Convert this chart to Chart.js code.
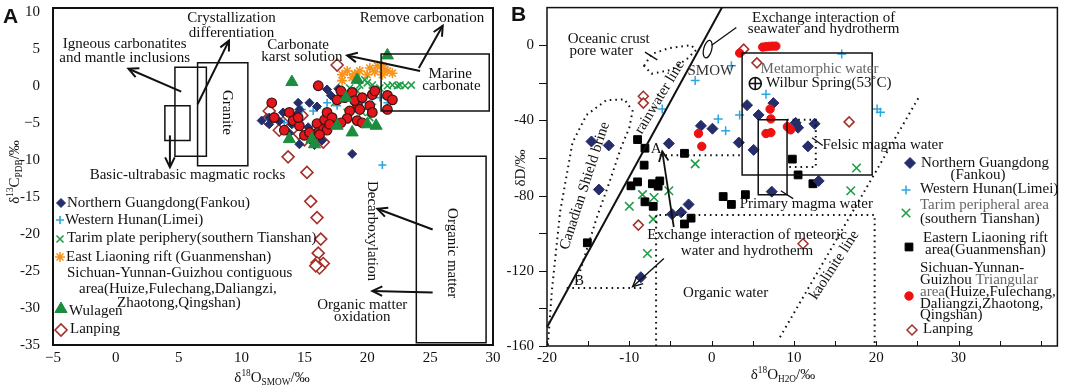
<!DOCTYPE html>
<html>
<head>
<meta charset="utf-8">
<script src="https://cdn.jsdelivr.net/npm/chart.js@4.4.0/dist/chart.umd.min.js"></script>
<style>
html, body { margin: 0; padding: 0; background: #fff; }
#wrap { position: relative; width: 1065px; height: 386px; }
#wrap canvas { position: absolute; left: 0; top: 0; }
</style>
</head>
<body>
<div id="wrap">
  <canvas id="chartA" width="1065" height="386"></canvas>
  <canvas id="chartB" width="1065" height="386"></canvas>
</div>
<script>
// ---- Panel A data: d18O SMOW (x) vs d13C PDB (y) ----
const fankouA = [[16.8,-0.5],[17.7,-0.4],[17.1,-1.3],[15.4,-2.3],[14.5,-2.3],[14.6,-3.2],[12.2,-4.3],[14.0,-5.2],[16.2,-6.0],[15.7,-6.7],[16.4,-7.4],[14.6,-7.9],[18.8,-9.2],[14.4,-3.9],[12.2,-5.2],[15.8,-8.0],[15.3,-5.6],[13.3,-3.6],[13.8,-6.4],[11.6,-4.7],[16.0,-2.8],[13.0,-4.8]];
const limeiA = [[16.8,-2.3],[16.0,-3.0],[15.7,-3.4],[14.8,-3.2],[17.6,-2.7],[19.2,-3.2],[19.6,-2.3],[20.4,-2.5],[21.2,-10.7],[14.2,-4.7],[21.6,-2.3],[21.0,-1.6],[13.4,-5.0]];
const tarimA = [[19.4,0.1],[20.0,0.4],[20.4,0.1],[21.0,-0.3],[21.6,0.0],[22.0,0.1],[22.4,0.0],[22.6,0.1],[23.5,0.1],[18.6,-0.3],[18.8,-1.2],[19.2,-0.7],[19.6,-3.6],[20.2,-4.3],[17.4,-2.3],[18.4,-3.6],[17.2,-5.4],[19.8,0.8],[19.2,-2.0],[23.0,0.0]];
const liaoningA = [[18.0,1.5],[18.4,2.0],[19.4,2.0],[20.2,2.4],[20.8,2.7],[21.4,2.1],[21.6,2.0],[22.0,1.7],[20.0,1.5],[18.8,1.1],[18.0,0.7],[21.2,1.5],[21.2,2.7],[19.0,1.6],[20.6,1.9]];
const sichuanA = [[16.1,0.0],[18.2,-1.6],[18.8,-0.9],[19.2,-2.5],[12.6,-4.3],[13.8,-3.6],[14.1,-4.7],[16.0,-5.1],[16.6,-4.6],[16.1,-6.3],[16.5,-5.9],[16.8,-6.0],[15.6,-7.2],[15.0,-6.7],[17.6,-1.9],[19.0,-2.0],[19.6,-1.6],[20.4,-1.2],[20.6,-0.7],[21.6,-1.3],[22.0,-1.9],[21.6,-3.2],[20.2,-2.7],[19.4,-3.2],[18.6,-3.4],[20.4,-3.6],[19.2,-4.7],[16.8,-3.6],[17.2,-4.3],[12.4,-2.3],[14.6,-5.4],[17.0,-5.2],[16.2,-6.6],[14.5,-4.3],[13.4,-6.0],[17.9,-0.7],[18.4,-4.4],[19.6,-5.0],[15.4,-6.3],[17.9,-5.0]];
const wulagenA = [[21.6,4.1],[14.0,0.5],[19.2,0.8],[18.3,-1.6],[17.6,-5.4],[20.0,-5.2],[20.7,-5.4],[18.8,-6.3],[13.8,-7.2],[15.6,-7.2],[15.8,-7.9]];
const lanpingA = [[17.6,2.8],[12.2,-3.4],[12.0,-4.6],[13.0,-6.0],[13.3,-5.0],[14.8,-4.0],[14.6,-6.5],[15.0,-7.3],[16.5,-7.6],[13.7,-9.6],[15.2,-11.7],[15.5,-15.6],[16.0,-17.8],[16.3,-20.7],[16.1,-22.6],[16.0,-23.9],[16.3,-24.3],[16.5,-24.0],[16.2,-24.6],[15.9,-24.3]];

// ---- Panel B data: d18O H2O (x) vs dD (y) ----
const fankouB = [[-14.6,-51.2],[-12.5,-53.3],[-13.7,-76.8],[-5.2,-52.3],[-1.3,-42.9],[0.1,-44.4],[-2.8,-84.7],[-3.7,-88.9],[-4.8,-89.9],[-8.6,-123.4],[4.3,-31.9],[5.7,-37.1],[7.5,-30.8],[3.3,-51.8],[5.1,-55.7],[7.3,-77.9],[10.2,-41.3],[12.5,-41.8],[10.5,-43.9],[11.7,-53.8],[13.0,-72.2]];
const limeiB = [[2.4,-10.9],[-2.0,-18.8],[-6.0,-34.0],[0.8,-39.2],[1.7,-45.5],[3.4,-37.1],[6.6,-26.1],[15.8,-4.7],[20.1,-34.0],[20.5,-35.6]];
const tarimB = [[-2.0,-63.1],[-5.2,-77.4],[-8.4,-79.5],[-7.0,-81.0],[-10.0,-85.7],[-7.1,-92.5],[-7.8,-110.8],[17.6,-65.3],[16.9,-77.4]];
const liaoningB = [[-9.0,-50.2],[-8.1,-54.8],[-3.3,-57.5],[-8.2,-63.8],[-9.0,-72.7],[-9.8,-74.8],[-7.2,-73.7],[-6.3,-72.2],[-6.5,-75.0],[-8.1,-83.3],[-7.1,-85.7],[-2.5,-92.0],[-3.3,-95.1],[-15.1,-105.1],[1.4,-80.5],[4.1,-79.5],[2.4,-84.7],[9.8,-60.6],[10.5,-69.0],[12.3,-73.7]];
const sichuanB = [[-1.6,-47.0],[-1.2,-53.8],[3.4,-4.2],[6.2,-1.0],[6.6,-0.8],[7.0,-0.6],[7.4,-0.5],[7.8,-0.5],[7.1,-34.0],[7.2,-39.2],[6.6,-47.0],[7.2,-46.5],[9.2,-43.4],[9.6,-45.0]];
const lanpingB = [[3.9,-2.1],[5.5,-9.4],[-8.3,-27.2],[-8.3,-30.8],[-8.9,-95.7],[16.7,-40.8],[11.1,-105.6]];

// axis ranges and tick values
const xRangeA = [-5, 30], yRangeA = [-35, 10.5];
const xTicksA = [-5, 0, 5, 10, 15, 20, 25, 30];
const yTicksA = [-35, -30, -25, -20, -15, -10, -5, 0, 5, 10];
const xRangeB = [-20, 42], yRangeB = [-160, 20];
const xTicksB = [-20, -15, -10, -5, 0, 5, 10, 15, 20, 25, 30, 35, 40];
const xLabelsB = [-20, -10, 0, 10, 20, 30];
const yTicksB = [-160, -140, -120, -100, -80, -60, -40, -20, 0];
const yLabelsB = [-160, -120, -80, -40, 0];

const FONT = '"Liberation Serif", "Times New Roman", serif';

// marker styles shared by datasets and hand-drawn legends
const sty = {
  fankou:   { pointStyle: 'rectRot', radius: 4.5, backgroundColor: '#252e6b', borderColor: '#252e6b', borderWidth: 1 },
  limei:    { pointStyle: 'cross', radius: 4, backgroundColor: '#2ba6e1', borderColor: '#2ba6e1', borderWidth: 1.6 },
  tarim:    { pointStyle: 'crossRot', radius: 5, backgroundColor: '#1f9d48', borderColor: '#1f9d48', borderWidth: 1.6 },
  liaoning: { pointStyle: 'star', radius: 5, backgroundColor: '#f7941d', borderColor: '#f7941d', borderWidth: 1.6 },
  sichuanA: { pointStyle: 'circle', radius: 4.8, backgroundColor: '#e4161c', borderColor: '#3a1414', borderWidth: 1.2 },
  wulagen:  { pointStyle: 'triangle', radius: 7, backgroundColor: '#1e8c3e', borderColor: '#1e8c3e', borderWidth: 1 },
  lanping:  { pointStyle: 'rectRot', radius: 6, backgroundColor: '#ffffff', borderColor: '#a4302a', borderWidth: 1.6 },
  fankouB:  { pointStyle: 'rectRot', radius: 5.5, backgroundColor: '#252e6b', borderColor: '#252e6b', borderWidth: 1 },
  limeiB:   { pointStyle: 'cross', radius: 4.5, backgroundColor: '#2ba6e1', borderColor: '#2ba6e1', borderWidth: 1.5 },
  tarimB:   { pointStyle: 'crossRot', radius: 6, backgroundColor: '#1f9d48', borderColor: '#1f9d48', borderWidth: 1.6 },
  squareB:  { pointStyle: 'rect', radius: 5.5, backgroundColor: '#000000', borderColor: '#000000', borderWidth: 1 },
  sichuanB: { pointStyle: 'circle', radius: 4.2, backgroundColor: '#ee1111', borderColor: '#ee1111', borderWidth: 1 },
  lanpingB: { pointStyle: 'rectRot', radius: 5, backgroundColor: '#ffffff', borderColor: '#a4302a', borderWidth: 1.5 }
};

function ds(label, pts, s, order) {
  return Object.assign({ label, order, data: pts.map(p => ({ x: p[0], y: p[1] })) }, s,
    { pointRadius: s.radius, pointHoverRadius: s.radius });
}

function mark(ctx, s, x, y) {
  ctx.save();
  ctx.fillStyle = s.backgroundColor;
  ctx.strokeStyle = s.borderColor;
  ctx.lineWidth = s.borderWidth;
  Chart.helpers.drawPoint(ctx, { pointStyle: s.pointStyle, radius: s.radius, rotation: 0, borderWidth: s.borderWidth }, x, y);
  ctx.restore();
}

// text with super/subscripts: parts = [[text, 0|1|-1], ...]
function richText(ctx, parts, x, y, size, rot) {
  ctx.save();
  ctx.translate(x, y);
  ctx.rotate(rot || 0);
  ctx.fillStyle = '#111';
  ctx.textBaseline = 'middle';
  ctx.textAlign = 'left';
  let w = 0;
  parts.forEach(p => { ctx.font = (p[1] ? size * 0.62 : size) + 'px ' + FONT; w += ctx.measureText(p[0]).width; });
  let cx = -w / 2;
  parts.forEach(p => {
    ctx.font = (p[1] ? size * 0.62 : size) + 'px ' + FONT;
    const dy = p[1] === 1 ? -size * 0.3 : p[1] === -1 ? size * 0.3 : 0;
    ctx.fillText(p[0], cx, dy);
    cx += ctx.measureText(p[0]).width;
  });
  ctx.restore();
}

// plugin that gives a small drawing kit in data coordinates
function annotator(drawFn) {
  return {
    id: 'annot',
    afterDatasetsDraw(chart) {
      const ctx = chart.ctx, sx = chart.scales.x, sy = chart.scales.y;
      const P = (x, y) => [sx.getPixelForValue(x), sy.getPixelForValue(y)];
      const g = {
        ctx, P, chart,
        line(pts, o = {}) {
          ctx.save();
          ctx.beginPath();
          pts.forEach((p, i) => { const q = P(p[0], p[1]); i ? ctx.lineTo(q[0], q[1]) : ctx.moveTo(q[0], q[1]); });
          if (o.close) ctx.closePath();
          ctx.lineWidth = o.width || 1.5;
          ctx.strokeStyle = o.color || '#111';
          if (o.dot) { ctx.setLineDash([1.6, 4]); ctx.lineWidth = o.width || 2; }
          ctx.stroke();
          ctx.restore();
        },
        arrow(a, b, w) {
          const p0 = P(a[0], a[1]), p1 = P(b[0], b[1]);
          ctx.save();
          ctx.strokeStyle = '#111';
          ctx.lineWidth = w || 2;
          ctx.beginPath(); ctx.moveTo(p0[0], p0[1]); ctx.lineTo(p1[0], p1[1]); ctx.stroke();
          const ang = Math.atan2(p1[1] - p0[1], p1[0] - p0[0]);
          ctx.beginPath();
          ctx.moveTo(p1[0] - 11 * Math.cos(ang - 0.45), p1[1] - 11 * Math.sin(ang - 0.45));
          ctx.lineTo(p1[0], p1[1]);
          ctx.lineTo(p1[0] - 11 * Math.cos(ang + 0.45), p1[1] - 11 * Math.sin(ang + 0.45));
          ctx.stroke();
          ctx.restore();
        },
        box(x0, y0, x1, y1, w) { this.line([[x0, y0], [x1, y0], [x1, y1], [x0, y1]], { close: true, width: w || 1.5 }); },
        text(str, x, y, o = {}) {
          const p = P(x, y);
          ctx.save();
          ctx.translate(p[0], p[1]);
          ctx.rotate((o.rot || 0) * Math.PI / 180);
          ctx.font = (o.size || 15) + 'px ' + FONT;
          ctx.fillStyle = o.color || '#111';
          ctx.textAlign = o.align || 'center';
          ctx.textBaseline = 'middle';
          ctx.fillText(str, 0, 0);
          ctx.restore();
        },
        label(str, x, y, o = {}) {
          ctx.save();
          ctx.font = (o.weight || '') + ' ' + (o.size || 15) + 'px ' + (o.family || FONT);
          ctx.fillStyle = o.color || '#111';
          ctx.textAlign = o.align || 'left';
          ctx.textBaseline = 'middle';
          ctx.fillText(str, x, y);
          ctx.restore();
        }
      };
      ctx.save();
      drawFn(g);
      ctx.restore();
    }
  };
}

// frame + custom tick marks
function frame(chart, lw, ticks) {
  const ctx = chart.ctx, a = chart.chartArea;
  ctx.save();
  ctx.strokeStyle = '#111';
  ctx.lineWidth = 1;
  if (ticks) {
    const sx = chart.scales.x, sy = chart.scales.y;
    ctx.beginPath();
    sy.ticks.forEach(t => { const yy = Math.round(sy.getPixelForValue(t.value)) + 0.5; ctx.moveTo(a.left - ticks.y, yy); ctx.lineTo(a.left, yy); });
    sx.ticks.forEach(t => { const xx = Math.round(sx.getPixelForValue(t.value)) + 0.5; ctx.moveTo(xx, a.bottom); ctx.lineTo(xx, a.bottom - ticks.x); });
    ctx.stroke();
  }
  ctx.lineWidth = lw;
  ctx.strokeRect(a.left, a.top, a.right - a.left, a.bottom - a.top);
  ctx.restore();
}

function axis(range, tickVals, labelFn, fitSize, pad) {
  return {
    type: 'linear', min: range[0], max: range[1],
    grid: { display: false, drawTicks: false },
    border: { display: false },
    ticks: { autoSkip: false, maxRotation: 0, padding: pad, color: '#111',
             font: { family: FONT, size: 15 }, callback: labelFn },
    afterBuildTicks(s) { s.ticks = tickVals.map(v => ({ value: v })); },
    afterFit(s) {
      if (s.isHorizontal()) s.height = fitSize; else s.width = fitSize;
      s.paddingTop = s.paddingBottom = s.paddingLeft = s.paddingRight = 0;
    }
  };
}

const minusFive = v => (v === -5 ? '\u22125' : String(v));

// ---------- Panel A ----------
const drawA = g => {
  frame(g.chart, 2, null);
  // field boxes
  g.box(6.5, 3.1, 10.5, -10.8);
  g.box(4.7, 2.5, 7.2, -9.5);
  g.box(3.9, -2.7, 5.9, -7.4);
  g.box(21.1, 4.3, 29.7, -3.4);
  g.box(23.9, -9.5, 29.45, -34.7);
  // arrows
  g.arrow([5.2, -0.8], [1.0, 2.3]);
  g.arrow([6.5, -2.5], [9.0, 6.1]);
  g.arrow([4.3, -6.7], [4.3, -11.0]);
  g.arrow([24.2, 2.0], [18.4, 4.1]);
  g.arrow([24.1, 2.4], [26.0, 8.1]);
  g.arrow([25.2, -19.4], [20.8, -16.6]);
  g.arrow([25.2, -27.9], [20.4, -27.7]);
  // labels
  g.text('Igneous carbonatites', 0.7, 5.6);
  g.text('and mantle inclusions', 0.7, 3.8);
  g.text('Crystallization', 9.2, 9.1);
  g.text('differentiation', 9.2, 7.1);
  g.text('Carbonate', 14.5, 5.5);
  g.text('karst solution', 14.8, 3.9);
  g.text('Remove carbonation', 24.35, 9.2);
  g.text('Marine', 26.6, 1.6);
  g.text('carbonate', 26.7, 0.0);
  g.text('Basic-ultrabasic magmatic rocks', 5.7, -12.0);
  g.text('Organic matter', 19.6, -29.65);
  g.text('oxidation', 19.6, -31.25);
  g.text('Granite', 8.8, -3.6, { rot: 90 });
  g.text('Decarboxylation', 20.4, -19.6, { rot: 90 });
  g.text('Organic matter', 26.7, -22.6, { rot: 90 });
  // legend (panel A)
  const ctx = g.ctx;
  mark(ctx, sty.fankou, 61, 203);   g.label('Northern Guangdong(Fankou)', 67, 203);
  mark(ctx, sty.limei, 60, 220);    g.label('Western Hunan(Limei)', 65, 220);
  mark(ctx, sty.tarim, 60, 239);    g.label('Tarim plate periphery(southern Tianshan)', 67, 238);
  mark(ctx, sty.liaoning, 60, 257); g.label('East Liaoning rift (Guanmenshan)', 66, 257);
  g.label('Sichuan-Yunnan-Guizhou contiguous', 67, 273);
  g.label('area(Huize,Fulechang,Daliangzi,', 79, 289);
  g.label('Zhaotong,Qingshan)', 117, 303);
  mark(ctx, sty.wulagen, 61, 309);  g.label('Wulagen', 69, 311);
  mark(ctx, sty.lanping, 61, 330);  g.label('Lanping', 70, 329);
  // axis titles, panel letter
  richText(ctx, [['δ', 0], ['13', 1], ['C', 0], ['PDB', -1], ['/‰', 0]], 15, 172, 15, -Math.PI / 2);
  richText(ctx, [['δ', 0], ['18', 1], ['O', 0], ['SMOW', -1], ['/‰', 0]], 272, 378, 15, 0);
  g.label('A', 3, 17, { weight: 'bold', size: 21, family: '"Liberation Sans", Arial, sans-serif' });
};

new Chart(document.getElementById('chartA'), {
  type: 'scatter',
  data: {
    datasets: [
      ds('Wulagen', wulagenA, sty.wulagen, 0),
      ds('Sichuan-Yunnan-Guizhou', sichuanA, sty.sichuanA, 1),
      ds('Northern Guangdong(Fankou)', fankouA, sty.fankou, 2),
      ds('Western Hunan(Limei)', limeiA, sty.limei, 3),
      ds('Tarim plate periphery', tarimA, sty.tarim, 4),
      ds('East Liaoning rift', liaoningA, sty.liaoning, 5),
      ds('Lanping', lanpingA, sty.lanping, 6)
    ]
  },
  options: {
    responsive: false, animation: false, events: [],
    layout: { padding: { left: 8, right: 572, top: 4, bottom: 11 } },
    plugins: { legend: { display: false }, tooltip: { enabled: false } },
    scales: {
      x: axis(xRangeA, xTicksA, minusFive, 30, 4),
      y: axis(yRangeA, yTicksA, minusFive, 45, 13)
    }
  },
  plugins: [annotator(drawA)]
});

// ---------- Panel B ----------
const drawB = g => {
  frame(g.chart, 1.5, { x: 5, y: 8 });
  // meteoric (rainwater) line
  g.line([[-20, -150], [1.25, 20]], { width: 2 });
  // Canadian Shield brine field
  g.line([[-19.9, -159.5], [-19.4, -130.2], [-18.4, -88.4], [-16.9, -51.8], [-15.2, -37.1], [-12.8, -29.3], [-10.6, -28.8], [-9.6, -35.0], [-10.0, -43.9], [-11.0, -54.4], [-12.4, -72.7], [-13.9, -91.0], [-15.4, -111.9], [-16.5, -127.6]], { dot: true });
  // oceanic crust pore water field
  g.line([[-8.2, -11.0], [-7.3, -4.7], [-5.2, -1.6], [-2.5, 0.0], [-1.9, -2.6], [-3.0, -7.3], [-4.9, -13.1], [-7.3, -15.2]], { dot: true, close: true });
  // organic water field
  g.line([[-6.75, -160], [-6.75, -90.3], [19.8, -90.3], [19.8, -160]], { dot: true });
  g.line([[-6.3, -58.6], [3.7, -58.6]], { dot: true });
  g.line([[-17.6, -129.2], [-8.4, -129.2]], { dot: true });
  // felsic magma water
  g.line([[9.16, -39.7], [12.65, -39.7], [12.65, -64.8], [9.16, -64.8]], { dot: true });
  // kaolinite line
  g.line([[8.3, -155.3], [25.3, -26.7]], { dot: true });
  // metamorphic and primary magma water boxes
  g.box(3.7, -4.2, 19.5, -69.0, 1.5);
  g.box(5.66, -39.7, 9.16, -79.5, 1.5);
  // leaders and arrows
  g.line([[-8.1, -3.7], [-6.6, -7.8]], { width: 1.3 });
  g.line([[0.0, 0.0], [3.0, 9.4]], { width: 1.3 });
  g.line([[12.2, -49.2], [13.5, -53.3]], { width: 1.3 });
  g.line([[8.4, -77.4], [9.9, -81.6]], { width: 1.3 });
  g.arrow([-4.6, -96.7], [-6.0, -56.5], 1.8);
  g.arrow([-5.8, -113.5], [-9.6, -128.5], 1.4);
  // SMOW drop
  const ctx = g.ctx;
  const c = g.P(-0.48, -2.1);
  ctx.save();
  ctx.strokeStyle = '#111'; ctx.lineWidth = 1.3;
  ctx.beginPath(); ctx.ellipse(c[0], c[1], 4, 9, 0.25, 0, Math.PI * 2); ctx.stroke();
  // Wilbur Spring symbol
  const w = g.P(5.3, -20.4);
  ctx.lineWidth = 1.6;
  ctx.beginPath(); ctx.arc(w[0], w[1], 6, 0, Math.PI * 2);
  ctx.moveTo(w[0] - 6, w[1]); ctx.lineTo(w[0] + 6, w[1]);
  ctx.moveTo(w[0], w[1] - 6); ctx.lineTo(w[0], w[1] + 6);
  ctx.stroke();
  ctx.restore();
  // labels
  g.text('Oceanic crust', -12.5, 3.1);
  g.text('pore water', -13.4, -3.1);
  g.text('SMOW', -0.1, -13.6, { color: '#333' });
  g.text('Exchange interaction of', 13.6, 14.6);
  g.text('seawater and hydrotherm', 13.6, 8.4);
  g.text('Metamorphic water', 13.1, -12.5, { color: '#666' });
  g.text('Wilbur Spring(53\u02DAC)', 6.6, -20.4, { align: 'left' });
  g.text('Felsic magma water', 20.8, -53.3);
  g.text('Primary magma water', 3.4, -84.7, { align: 'left' });
  g.text('Exchange interaction of meteoric', 4.3, -100.9);
  g.text('water and hydrotherm', 4.3, -109.3);
  g.text('Organic water', 1.7, -131.8);
  g.text('A', -6.75, -55.4);
  g.text('B', -16.1, -125.5);
  g.text('rainwater line', -6.3, -27.7, { rot: -59 });
  g.text('Canadian Shield brine', -15.4, -74.8, { rot: -72 });
  g.text('kaolinite line', 14.9, -117.0, { rot: -57 });
  // legend (panel B)
  mark(ctx, sty.fankouB, 910, 163); g.label('Northern Guangdong', 921, 163); g.label('(Fankou)', 978, 175, { align: 'center' });
  mark(ctx, sty.limeiB, 906, 190);  g.label('Western Hunan(Limei)', 920, 189);
  mark(ctx, sty.tarimB, 906, 213);  g.label('Tarim peripheral area', 920, 205, { color: '#666' }); g.label('(southern Tianshan)', 920, 219);
  mark(ctx, sty.squareB, 909, 247); g.label('Eastern Liaoning rift', 923, 238); g.label('area(Guanmenshan)', 925, 250);
  mark(ctx, sty.sichuanB, 909, 296);
  g.label('Sichuan-Yunnan-', 920, 268);
  g.label('Guizhou', 920, 280);
  ctx.save(); ctx.font = '15px ' + FONT; const gw = ctx.measureText('Guizhou ').width; const aw = ctx.measureText('area').width; ctx.restore();
  g.label('Triangular', 920 + gw, 280, { color: '#666' });
  g.label('area', 920, 292, { color: '#666' });
  g.label('(Huize,Fulechang,', 920 + aw, 292);
  g.label('Daliangzi,Zhaotong,', 920, 304);
  g.label('Qingshan)', 920, 315);
  mark(ctx, sty.lanpingB, 912, 330); g.label('Lanping', 923, 329);
  // axis titles, panel letter
  richText(ctx, [['δD/‰', 0]], 521, 168, 15, -Math.PI / 2);
  richText(ctx, [['δ', 0], ['18', 1], ['O', 0], ['H2O', -1], ['/‰', 0]], 783, 375, 15, 0);
  g.label('B', 511, 15, { weight: 'bold', size: 21, family: '"Liberation Sans", Arial, sans-serif' });
};

new Chart(document.getElementById('chartB'), {
  type: 'scatter',
  data: {
    datasets: [
      ds('Sichuan-Yunnan-Guizhou', sichuanB, sty.sichuanB, 0),
      ds('Northern Guangdong(Fankou)', fankouB, sty.fankouB, 1),
      ds('Eastern Liaoning rift', liaoningB, sty.squareB, 2),
      ds('Western Hunan(Limei)', limeiB, sty.limeiB, 3),
      ds('Tarim peripheral area', tarimB, sty.tarimB, 4),
      ds('Lanping', lanpingB, sty.lanpingB, 5)
    ]
  },
  options: {
    responsive: false, animation: false, events: [],
    layout: { padding: { left: 502, right: 4, top: 2, bottom: 10 } },
    plugins: { legend: { display: false }, tooltip: { enabled: false } },
    scales: {
      x: axis(xRangeB, xTicksB, v => (xLabelsB.includes(v) ? String(v) : ''), 30, 3),
      y: axis(yRangeB, yTicksB, v => (yLabelsB.includes(v) ? String(v) : ''), 45, 13)
    }
  },
  plugins: [annotator(drawB)]
});
</script>
</body>
</html>
